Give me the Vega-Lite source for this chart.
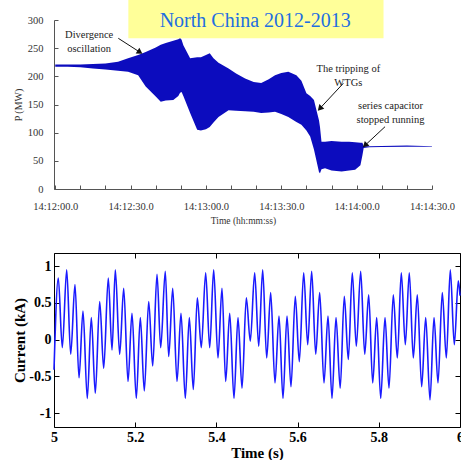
{
  "$schema": "https://vega.github.io/schema/vega-lite/v6.json",
  "background": "white",
  "padding": {"left": 12, "top": 0, "right": 0, "bottom": 0},
  "bounds": "flush",
  "spacing": 64,
  "config": {
    "view": {"stroke": null},
    "font": "Liberation Serif",
    "axis": {"grid": false, "labelOverlap": false, "labelFlush": false}
  },
  "datasets": {
    "power": [
      {"t": 0, "hi": 221, "lo": 217},
      {"t": 5, "hi": 221, "lo": 217},
      {"t": 10, "hi": 221, "lo": 216},
      {"t": 15, "hi": 222, "lo": 214},
      {"t": 20, "hi": 223, "lo": 212},
      {"t": 25, "hi": 226, "lo": 210},
      {"t": 29, "hi": 232, "lo": 208},
      {"t": 33, "hi": 238, "lo": 202},
      {"t": 36, "hi": 243, "lo": 182},
      {"t": 40, "hi": 251, "lo": 164},
      {"t": 42, "hi": 256, "lo": 155},
      {"t": 44, "hi": 259, "lo": 157},
      {"t": 47, "hi": 263, "lo": 158},
      {"t": 49, "hi": 266, "lo": 165},
      {"t": 49.7, "hi": 268, "lo": 171},
      {"t": 50.3, "hi": 265, "lo": 172},
      {"t": 51, "hi": 255, "lo": 165},
      {"t": 53.7, "hi": 232, "lo": 135},
      {"t": 56.5, "hi": 234, "lo": 105},
      {"t": 58, "hi": 234, "lo": 104},
      {"t": 60, "hi": 238, "lo": 106},
      {"t": 61.5, "hi": 241, "lo": 110},
      {"t": 63, "hi": 232, "lo": 118},
      {"t": 65, "hi": 224, "lo": 128},
      {"t": 69, "hi": 214, "lo": 140},
      {"t": 72, "hi": 205, "lo": 139},
      {"t": 75.6, "hi": 196, "lo": 138},
      {"t": 79, "hi": 190, "lo": 137},
      {"t": 82, "hi": 188, "lo": 135},
      {"t": 85, "hi": 195, "lo": 136},
      {"t": 87.5, "hi": 202, "lo": 137},
      {"t": 90, "hi": 206, "lo": 133},
      {"t": 92.8, "hi": 208, "lo": 128},
      {"t": 96, "hi": 202, "lo": 119},
      {"t": 98, "hi": 192, "lo": 114},
      {"t": 100, "hi": 170, "lo": 104},
      {"t": 101.5, "hi": 165, "lo": 93},
      {"t": 103, "hi": 158, "lo": 70},
      {"t": 104, "hi": 140, "lo": 50},
      {"t": 105, "hi": 122, "lo": 30},
      {"t": 105.4, "hi": 110, "lo": 28},
      {"t": 106, "hi": 84, "lo": 35},
      {"t": 107.4, "hi": 84, "lo": 37},
      {"t": 110, "hi": 85, "lo": 33},
      {"t": 114, "hi": 84, "lo": 31},
      {"t": 117, "hi": 84, "lo": 33},
      {"t": 119.4, "hi": 83, "lo": 34},
      {"t": 121.5, "hi": 82, "lo": 42},
      {"t": 122.3, "hi": 82, "lo": 60},
      {"t": 122.8, "hi": 76, "lo": 73},
      {"t": 125, "hi": 76, "lo": 74},
      {"t": 130, "hi": 76.5, "lo": 74.5},
      {"t": 140, "hi": 77, "lo": 75},
      {"t": 150, "hi": 76, "lo": 75}
    ],
    "banner": [
      {"t0": 29.1, "t1": 130.7, "p0": 267.5, "p1": 335.5, "tc": 79.6, "pc": 298.5, "label": "North China 2012-2013"}
    ],
    "notes": [
      {"t": 13.5, "p": 274, "label": "Divergence\noscillation"},
      {"t": 116.7, "p": 213, "label": "The tripping of\nWTGs"},
      {"t": 133.5, "p": 148, "label": "series capacitor\nstopped running"}
    ],
    "arrows": [
      {"id": "a", "t0": 25.1, "p0": 267.5, "t1": 33.4, "p1": 243.7},
      {"id": "b", "t0": 114.7, "p0": 187.6, "t1": 105.6, "p1": 144.1},
      {"id": "c", "t0": 131.3, "p0": 110.6, "t1": 123.6, "p1": 78.6}
    ],
    "current": [
      {"time": 5.0, "current": -0.41},
      {"time": 5.0106, "current": 0.84},
      {"time": 5.0204, "current": -0.11},
      {"time": 5.0313, "current": 0.95},
      {"time": 5.0411, "current": -0.2},
      {"time": 5.0517, "current": 0.75},
      {"time": 5.0616, "current": -0.52},
      {"time": 5.0714, "current": 0.39},
      {"time": 5.082, "current": -0.8},
      {"time": 5.0919, "current": 0.3},
      {"time": 5.1017, "current": -0.73},
      {"time": 5.1126, "current": 0.52},
      {"time": 5.1224, "current": -0.39},
      {"time": 5.1337, "current": 0.84},
      {"time": 5.1429, "current": -0.14},
      {"time": 5.151, "current": 0.95},
      {"time": 5.1618, "current": -0.2},
      {"time": 5.1717, "current": 0.7},
      {"time": 5.1823, "current": -0.57},
      {"time": 5.1921, "current": 0.36},
      {"time": 5.2027, "current": -0.8},
      {"time": 5.2126, "current": 0.3},
      {"time": 5.2224, "current": -0.7},
      {"time": 5.2333, "current": 0.52},
      {"time": 5.2431, "current": -0.36},
      {"time": 5.2537, "current": 0.89},
      {"time": 5.2628, "current": -0.11},
      {"time": 5.2741, "current": 0.93},
      {"time": 5.2825, "current": -0.23},
      {"time": 5.2924, "current": 0.7},
      {"time": 5.303, "current": -0.57},
      {"time": 5.3128, "current": 0.36},
      {"time": 5.3234, "current": -0.8},
      {"time": 5.3333, "current": 0.3},
      {"time": 5.3431, "current": -0.68},
      {"time": 5.353, "current": 0.57},
      {"time": 5.3628, "current": -0.11},
      {"time": 5.3736, "current": 0.91},
      {"time": 5.3835, "current": -0.11},
      {"time": 5.3933, "current": 0.95},
      {"time": 5.4039, "current": -0.25},
      {"time": 5.4138, "current": 0.7},
      {"time": 5.4229, "current": -0.57},
      {"time": 5.4328, "current": 0.36},
      {"time": 5.4433, "current": -0.8},
      {"time": 5.4532, "current": 0.3},
      {"time": 5.4631, "current": -0.66},
      {"time": 5.4737, "current": 0.57},
      {"time": 5.4835, "current": -0.02},
      {"time": 5.4943, "current": 0.91},
      {"time": 5.5042, "current": -0.09},
      {"time": 5.514, "current": 0.95},
      {"time": 5.5239, "current": -0.25},
      {"time": 5.5337, "current": 0.64},
      {"time": 5.5443, "current": -0.59},
      {"time": 5.5542, "current": 0.32},
      {"time": 5.564, "current": -0.8},
      {"time": 5.5739, "current": 0.32},
      {"time": 5.5837, "current": -0.64},
      {"time": 5.5943, "current": 0.59},
      {"time": 5.6042, "current": -0.3},
      {"time": 5.615, "current": 0.91},
      {"time": 5.6249, "current": -0.07},
      {"time": 5.6347, "current": 0.93},
      {"time": 5.6446, "current": -0.2},
      {"time": 5.6544, "current": 0.64},
      {"time": 5.665, "current": -0.59},
      {"time": 5.6749, "current": 0.32},
      {"time": 5.6847, "current": -0.8},
      {"time": 5.6946, "current": 0.3},
      {"time": 5.7049, "current": -0.66},
      {"time": 5.715, "current": 0.59},
      {"time": 5.7249, "current": -0.27},
      {"time": 5.7347, "current": 0.91},
      {"time": 5.7446, "current": -0.09},
      {"time": 5.7554, "current": 0.93},
      {"time": 5.7653, "current": -0.2},
      {"time": 5.7751, "current": 0.61},
      {"time": 5.785, "current": -0.59},
      {"time": 5.7948, "current": 0.3},
      {"time": 5.8047, "current": -0.8},
      {"time": 5.8153, "current": 0.3},
      {"time": 5.8251, "current": -0.66},
      {"time": 5.8357, "current": 0.61},
      {"time": 5.8456, "current": -0.25},
      {"time": 5.8554, "current": 0.91},
      {"time": 5.8653, "current": -0.07},
      {"time": 5.8751, "current": 0.91},
      {"time": 5.885, "current": -0.25},
      {"time": 5.8948, "current": 0.61},
      {"time": 5.9056, "current": -0.64},
      {"time": 5.9155, "current": 0.3},
      {"time": 5.9261, "current": -0.82},
      {"time": 5.936, "current": 0.3},
      {"time": 5.9458, "current": -0.59},
      {"time": 5.9564, "current": 0.64},
      {"time": 5.9663, "current": -0.25},
      {"time": 5.9761, "current": 0.95},
      {"time": 5.986, "current": -0.07},
      {"time": 5.9958, "current": 0.8},
      {"time": 6.0, "current": 0.6}
    ]
  },
  "vconcat": [
    {
      "width": 378,
      "height": 169,
      "layer": [
        {
          "data": {"name": "power"},
          "mark": {"type": "area", "color": "#0c0cbe", "opacity": 1},
          "encoding": {
            "x": {
              "field": "t",
              "type": "quantitative",
              "scale": {"domain": [-0.5, 150], "nice": false, "zero": false},
              "axis": {
                "values": [0, 10, 20, 30, 40, 50, 60, 70, 80, 90, 100, 110, 120, 130, 140, 150],
                "tickCount": 100,
                "labelExpr": "datum.value % 30 === 0 ? '14:' + (12 + floor(datum.value / 60)) + ':' + (datum.value % 60 < 10 ? '0' : '') + (datum.value % 60) + '.0' : ''",
                "labelOverlap": false,
                "labelFlush": false,
                "title": "Time (hh:mm:ss)",
                "tickSize": -4,
                "labelPadding": 16,
                "labelFontSize": 10.5,
                "labelColor": "#333",
                "titleFontSize": 9.5,
                "titleFontWeight": "normal",
                "titleColor": "#333",
                "titlePadding": 4,
                "domainColor": "#555",
                "tickColor": "#555"
              }
            },
            "y": {
              "field": "lo",
              "type": "quantitative",
              "scale": {"domain": [0, 300], "nice": false},
              "axis": {
                "values": [0, 50, 100, 150, 200, 250, 300],
                "tickCount": 100,
                "labelOverlap": false,
                "labelFlush": false,
                "title": "P (MW)",
                "tickSize": -4,
                "labelPadding": 15,
                "labelFontSize": 10.5,
                "labelColor": "#333",
                "titleFontSize": 10,
                "titleFontWeight": "normal",
                "titleColor": "#333",
                "titlePadding": 4,
                "domainColor": "#555",
                "tickColor": "#555"
              }
            },
            "y2": {"field": "hi"}
          }
        },
        {
          "data": {"name": "banner"},
          "mark": {"type": "rect", "fill": "#ffff99"},
          "encoding": {
            "x": {"field": "t0", "type": "quantitative"},
            "x2": {"field": "t1"},
            "y": {"field": "p0", "type": "quantitative"},
            "y2": {"field": "p1"}
          }
        },
        {
          "data": {"name": "banner"},
          "mark": {"type": "text", "fontSize": 20, "color": "#1f6fe0", "align": "center", "baseline": "middle"},
          "encoding": {
            "x": {"field": "tc", "type": "quantitative"},
            "y": {"field": "pc", "type": "quantitative"},
            "text": {"field": "label"}
          }
        },
        {
          "data": {"name": "notes"},
          "mark": {"type": "text", "fontSize": 10.5, "color": "#222", "align": "center", "baseline": "middle", "lineBreak": "\n", "lineHeight": 14},
          "encoding": {
            "x": {"field": "t", "type": "quantitative"},
            "y": {"field": "p", "type": "quantitative"},
            "text": {"field": "label"}
          }
        },
        {
          "data": {"name": "arrows"},
          "mark": {"type": "rule", "color": "#111", "strokeWidth": 1},
          "encoding": {
            "x": {"field": "t0", "type": "quantitative"},
            "y": {"field": "p0", "type": "quantitative"},
            "x2": {"field": "t1"},
            "y2": {"field": "p1"}
          }
        },
        {
          "data": {"name": "arrows"},
          "transform": [{"filter": "datum.id === 'a'"}],
          "mark": {"type": "point", "shape": "triangle", "filled": true, "color": "#111", "size": 45, "angle": 123, "opacity": 1},
          "encoding": {
            "x": {"field": "t1", "type": "quantitative"},
            "y": {"field": "p1", "type": "quantitative"}
          }
        },
        {
          "data": {"name": "arrows"},
          "transform": [{"filter": "datum.id === 'b'"}],
          "mark": {"type": "point", "shape": "triangle", "filled": true, "color": "#111", "size": 45, "angle": 223, "opacity": 1},
          "encoding": {
            "x": {"field": "t1", "type": "quantitative"},
            "y": {"field": "p1", "type": "quantitative"}
          }
        },
        {
          "data": {"name": "arrows"},
          "transform": [{"filter": "datum.id === 'c'"}],
          "mark": {"type": "point", "shape": "triangle", "filled": true, "color": "#111", "size": 45, "angle": 227, "opacity": 1},
          "encoding": {
            "x": {"field": "t1", "type": "quantitative"},
            "y": {"field": "p1", "type": "quantitative"}
          }
        }
      ]
    },
    {
      "width": 406,
      "height": 174,
      "data": {"name": "current"},
      "layer": [
        {
          "mark": {"type": "line", "color": "#1a1aff", "strokeWidth": 1.6, "interpolate": "monotone"},
          "encoding": {
            "x": {
              "field": "time",
              "type": "quantitative",
              "scale": {"domain": [5, 6], "nice": false, "zero": false},
              "axis": {
                "values": [5, 5.2, 5.4, 5.6, 5.8, 6],
                "tickCount": 100,
                "labelExpr": "'' + datum.value",
                "labelOverlap": false,
                "labelFlush": false,
                "title": "Time (s)",
                "tickSize": -5,
                "labelPadding": 8,
                "labelFontSize": 14,
                "labelFontWeight": "bold",
                "labelColor": "#000",
                "titleFontSize": 15,
                "titleFontWeight": "bold",
                "titleColor": "#000",
                "titlePadding": 1,
                "domainColor": "#000",
                "tickColor": "#000"
              }
            },
            "y": {
              "field": "current",
              "type": "quantitative",
              "scale": {"domain": [-1.19, 1.18], "nice": false, "zero": false},
              "axis": {
                "values": [-1, -0.5, 0, 0.5, 1],
                "tickCount": 100,
                "labelExpr": "'' + datum.value",
                "labelOverlap": false,
                "labelFlush": false,
                "title": "Current (kA)",
                "tickSize": -5,
                "labelPadding": 8,
                "labelFontSize": 14,
                "labelFontWeight": "bold",
                "labelColor": "#000",
                "titleFontSize": 15,
                "titleFontWeight": "bold",
                "titleColor": "#000",
                "titlePadding": 1,
                "domainColor": "#000",
                "tickColor": "#000"
              }
            }
          }
        },
        {
          "mark": {"type": "line", "opacity": 0},
          "encoding": {
            "x": {
              "field": "time",
              "type": "quantitative",
              "axis": {"orient": "top", "values": [5, 5.2, 5.4, 5.6, 5.8, 6], "tickCount": 100, "labels": false, "title": null, "tickSize": -5, "domainColor": "#000", "tickColor": "#000"}
            },
            "y": {
              "field": "current",
              "type": "quantitative",
              "axis": {"orient": "right", "values": [-1, -0.5, 0, 0.5, 1], "tickCount": 100, "labels": false, "title": null, "tickSize": -5, "domainColor": "#000", "tickColor": "#000"}
            }
          }
        }
      ],
      "resolve": {"axis": {"x": "independent", "y": "independent"}}
    }
  ]
}
